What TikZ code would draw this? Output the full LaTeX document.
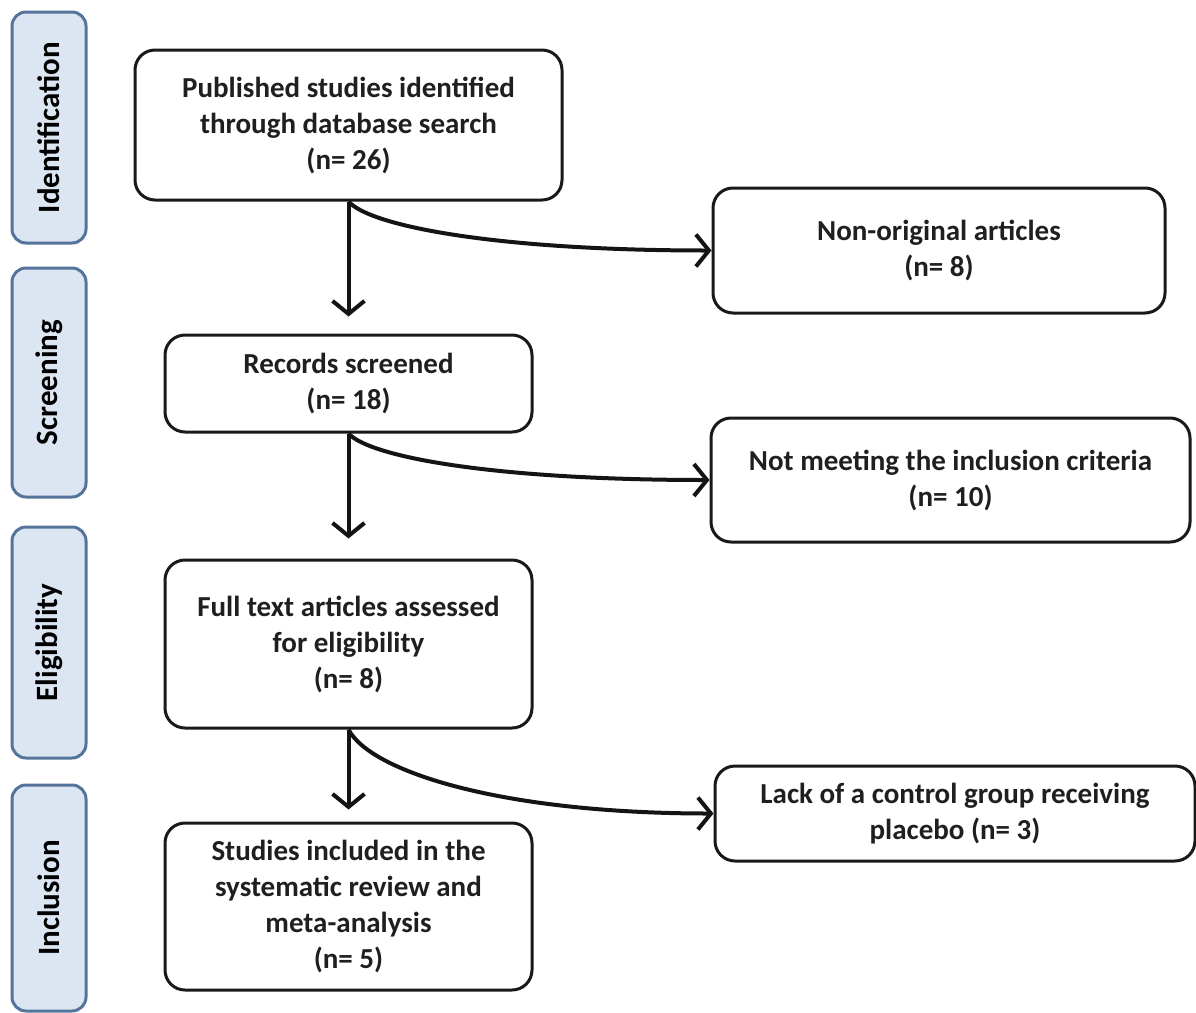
\documentclass[tikz,border=0pt]{standalone}
\usepackage{fontspec}
\setmainfont{Carlito}
\usetikzlibrary{arrows.meta}
\definecolor{barfill}{HTML}{DCE6F2}
\definecolor{barline}{HTML}{55749C}
\begin{document}
\begin{tikzpicture}[x=1pt,y=-1pt,
  phase/.style={draw=barline, fill=barfill, line width=3pt, rounded corners=14pt,
    minimum width=74pt, inner sep=0pt},
  phasetext/.style={rotate=90, font=\fontsize{31}{36}\selectfont\bfseries},
  box/.style={draw=black!90, line width=3pt, rounded corners=20pt, fill=white,
    align=center, inner sep=0pt, font=\fontsize{29}{36}\selectfont\bfseries, text=black!88},
  arr/.style={line width=4pt, draw=black!92, -{Straight Barb[length=13pt,width=32pt]}}]
\useasboundingbox (0,0) rectangle (1196,1012);
\fill[white] (0,0) rectangle (1196,1012);
% phase bars
\node[phase, minimum height=231pt] (p1) at (49,127.5) {};
\node[phasetext] (t1) at (p1.center) {Identification};
\node[phase, minimum height=229pt] (p2) at (49,382.5) {};
\node[phasetext] (t2) at (p2.center) {Screening};
\node[phase, minimum height=231pt] (p3) at (49,642.5) {};
\node[phasetext] (t3) at (p3.center) {Eligibility};
\node[phase, minimum height=226pt] (p4) at (49,898) {};
\node[phasetext] (t4) at (p4.center) {Inclusion};
% main boxes
\node[box, minimum width=427pt, minimum height=150pt] (b1) at (348.5,125)
  {Published studies identified\\through database search\\(n= 26)};
\node[box, minimum width=367pt, minimum height=97pt] (b2) at (348.5,383.5)
  {Records screened\\(n= 18)};
\node[box, minimum width=367pt, minimum height=168pt] (b3) at (348.5,644)
  {Full text articles assessed\\for eligibility\\(n= 8)};
\node[box, minimum width=367pt, minimum height=167pt] (b4) at (348.5,906.5)
  {Studies included in the\\systematic review and\\meta-analysis\\(n= 5)};
% exclusion boxes
\node[box, minimum width=452pt, minimum height=125pt] (r1) at (939,250.5)
  {Non-original articles\\(n= 8)};
\node[box, minimum width=479pt, minimum height=124pt] (r2) at (950.5,480)
  {Not meeting the inclusion criteria\\(n= 10)};
\node[box, minimum width=480pt, minimum height=95pt] (r3) at (955,813.5)
  {Lack of a control group receiving\\placebo (n= 3)};
% arrows
\draw[arr, shorten >=17pt] (b1.south) -- (b2.north);
\draw[arr, shorten >=20pt] (b2.south) -- (b3.north);
\draw[arr, shorten >=12pt] (b3.south) -- (b4.north);
\draw[arr] (b1.south) .. controls +(22,25) and +(-213,0) .. (r1.west);
\draw[arr] (b2.south) .. controls +(22,24) and +(-213,0) .. (r2.west);
\draw[arr] (b3.south) .. controls +(22,42) and +(-213,0) .. (r3.west);
\end{tikzpicture}
\end{document}
